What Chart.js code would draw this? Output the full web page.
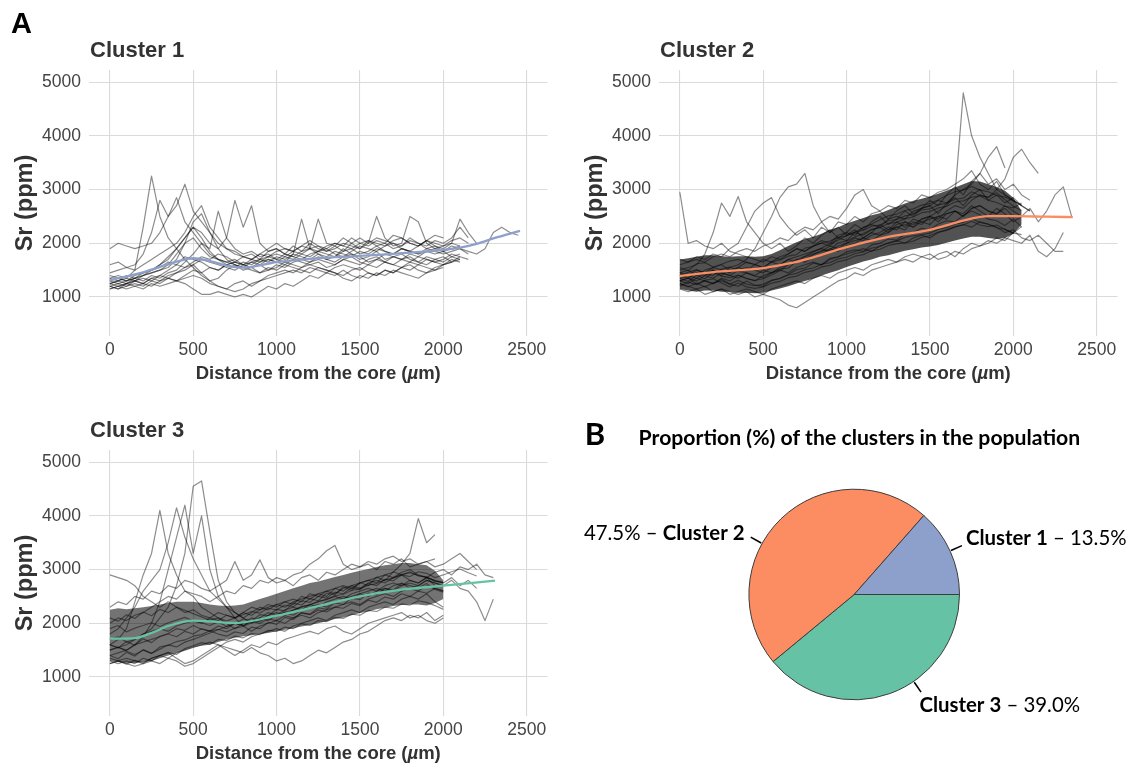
<!DOCTYPE html>
<html>
<head>
<meta charset="utf-8">
<script src="https://cdn.jsdelivr.net/npm/chart.js@4.4.1/dist/chart.umd.min.js"></script>
<style>
  html, body { margin: 0; padding: 0; background: #fff; }
  body { width: 1143px; height: 767px; position: relative; overflow: hidden; }
  canvas { position: absolute; }
</style>
</head>
<body>
<canvas id="cluster1" width="570" height="395" style="left:0px;top:0px"></canvas>
<canvas id="cluster2" width="573" height="395" style="left:570px;top:0px"></canvas>
<canvas id="cluster3" width="570" height="395" style="left:0px;top:380px"></canvas>
<canvas id="proportions" width="573" height="367" style="left:570px;top:400px"></canvas>
<script>
// distance from the core (um), one reading every 50 um
const distance = [0,50,100,150,200,250,300,350,400,450,500,550,600,650,700,750,800,850,900,950,
  1000,1050,1100,1150,1200,1250,1300,1350,1400,1450,1500,1550,1600,1650,1700,1750,1800,1850,1900,1950,
  2000,2050,2100,2150,2200,2250,2300,2350,2400,2450];

const xTicks = [0, 500, 1000, 1500, 2000, 2500];
const yTicks = [1000, 2000, 3000, 4000, 5000];

// ---- Cluster 1 : individual Sr profiles (ppm) ----
const c1Profiles = [
  [1250,1300,1350,1500,2300,3250,2500,2100,1900,1700,1550,1400,1300,1350,1500,1600,1550,1650,1600,1700,1650,1750,1700,1800,1750,1850,1800,1750,1850,1900,1800,1850,1950,1850,1800,1900,1850,1800,1900,1850,1800,1850,1900,1800],
  [1900,2000,1950,1900,1950,2000,2200,2500,2700,3100,2600,2400,2200,2000,1900,1850,1750,1800,1700,1850,1900,1800,1750,1850,2000,1900,1850,1950,2100,2000,1900,2000,2100,2050,2000,1950,2100,2000,1950,2050,2000,2100,2300,2100],
  [1450,1500,1550,1600,1800,2200,2800,2500,2850,2400,2200,2000,1900,2600,2100,1900,1800,1850,1750,1800,1700,1650,1800,2450,1900,1800,1700,1750,1900,1800,1700,1750,1850,1700,1750,1800,1700,1650,1750,1700,1650,1750,1700],
  [1300,1350,1300,1400,1450,1500,1600,1700,1900,2100,2300,2200,2000,1900,2100,2800,2300,2700,2000,1850,1900,1800,1950,1850,1900,2450,2000,1950,1850,2000,2100,2000,2500,2100,1950,2000,2500,2400,2000,1900,1950,2000,2450,2200,2000],
  [1200,1150,1200,1250,1200,1300,1250,1350,1300,1250,1150,1050,1050,1100,1050,1000,1050,1000,1100,1200,1150,1250,1200,1300,1400,1350,1450,1400,1500,1400,1350,1450,1400,1500,1450,1550,1500,1600,1550,1500,1600,1650,1700],
  [1350,1300,1400,1350,1450,1500,1550,1650,1600,1750,1700,1650,1550,1500,1600,1550,1650,1600,1700,1650,1750,1700,1800,1750,1700,1800,1750,1850,1800,1750,1850,1800,1900,1850,1800,1900,1850,1800,1850,1900,1850,1950,1900,1850,1800,1900,2200,2300,2200,2150],
  [1150,1200,1250,1300,1350,1300,1400,1500,1600,1550,1650,1750,1700,1800,1750,1650,1600,1550,1650,1700,1650,1600,1700,1650,1600,1550,1500,1450,1350,1300,1400,1350,1450,1400,1500,1450,1400,1350,1450,1500,1550],
  [1600,1650,1550,1500,1600,1700,1800,1900,2000,2200,2500,2700,2300,2100,1900,1800,1750,1700,1800,1900,2000,1900,1850,1950,2050,1950,1900,2000,1950,2100,2000,1950,2050,2000,2150,2100,2000,1950,2050,2150,2100],
  [1250,1200,1250,1300,1250,1350,1400,1350,1450,1550,1600,1450,1300,1200,1150,1250,1300,1200,1300,1400,1450,1500,1450,1550,1600,1650,1550,1600,1700,1650,1600,1700,1750,1650,1600,1700,1750,1650,1600,1700,1750,1650,1750,1700],
  [1400,1350,1300,1350,1400,1450,1500,1550,1700,2000,2400,2550,2200,1900,1700,1600,1500,1550,1450,1500,1600,1550,1650,1700,1650,1750,1700,1650,1750,1800,1750,1650,1700,1800,1750,1700,1800,1750,1850,1800,1850,1750,1800],
  [1200,1250,1200,1300,1250,1350,1300,1400,1450,1500,1600,1700,1650,1600,1550,1500,1600,1650,1700,1750,1700,1800,1750,1700,1800,1850,1900,1800,1750,1850,1950,1900,1850,1950,2000,1900,1850,1950,2050,1950,1900,2000,1950],
  [1300,1250,1300,1350,1300,1400,1350,1450,1500,1650,1800,2000,1800,1700,1650,1700,1600,1550,1600,1500,1550,1650,1600,1550,1650,1700,1650,1600,1700,1750,1650,1600,1700,1650,1750,1700,1650,1750,1700,1650,1700,1800,1750],
  [1150,1200,1150,1200,1250,1200,1300,1350,1300,1400,1500,1450,1550,1500,1600,1650,1600,1700,1650,1750,1800,1750,1850,1800,1900,1950,1850,1900,2000,1950,1900,2050,2000,1950,2050,2100,2000,1950,2050,2000,1950,2050,2100,2000],
  [1350,1400,1350,1300,1400,1450,1500,1600,1800,2000,2100,1900,1750,1700,1650,1600,1550,1500,1450,1550,1500,1600,1550,1500,1450,1550,1500,1450,1400,1500,1550,1450,1400,1500,1450,1550,1600,1500,1450,1550,1600,1650],
  [1250,1300,1250,1350,1400,1500,1600,1750,1900,2100,2300,2100,1850,1700,1600,1650,1750,1700,1800,1750,1850,1900,1850,1950,1900,1850,1950,2000,1950,1900,2000,2050,1950,2000,1900,1950,2050,2000,1900,1950,1850,1900,1950],
  [1200,1150,1250,1200,1150,1250,1200,1250,1300,1350,1400,1350,1250,1200,1150,1100,1150,1250,1300,1350,1400,1450,1500,1450,1550,1500,1450,1550,1600,1550,1500,1600,1550,1650,1600,1550,1650,1600,1700,1650,1600,1700,1650]
];
const c1FitDist = [0,200,400,500,600,700,800,1000,1200,1500,1800,2000,2100,2200,2300,2460];
const c1FitSr   = [1315,1460,1660,1722,1670,1585,1548,1652,1712,1765,1825,1880,1920,1990,2090,2230];

// ---- Cluster 2 ----
const c2Profiles = [
  [2950,2000,2050,1950,1900,2000,1850,1800,1750,1700,1650,1750,1700,1800,1900,1850,1950,2000,1950,2100,2050,2200,2150,2250,2300,2200,2350,2400,2300,2450,2500,2400,2550,2600,2500,2650,2700,2600,2550,2650,2500],
  [1500,1550,1600,1800,2200,2750,2500,2870,2400,2200,2000,1900,2000,1850,1950,2100,2000,2150,2250,2100,2200,2350,2250,2400,2500,2350,2450,2600,2500,2650,2700,2550,2750,2850,2700,2900,3000,2800,2900,2750,2850,2700],
  [1700,1650,1750,1700,1800,1750,1900,2000,2300,2600,2750,2850,2500,2300,2150,2250,2100,2300,2200,2400,2350,2500,2400,2550,2600,2450,2600,2700,2550,2650,2800,2700,2900,3050,2900,3150,3300,3100,3200,3000,3100,2900,2800],
  [1350,1400,1350,1450,1500,1400,1550,1600,1700,1900,2200,2500,2850,3050,3100,3300,2700,2400,2200,2300,2150,2250,2100,2200,2350,2250,2400,2300,2450,2400,2350,2500,2450,2600,2550,2700,2600,2500,2650,2550,2400,2500],
  [1250,1200,1150,1200,1100,1150,1100,1050,1100,1000,1050,1000,950,850,800,900,1000,1100,1200,1300,1350,1450,1400,1500,1550,1600,1650,1700,1650,1750,1800,1700,1750,1850,1800,1900,1950,2000,2100,2050,2200],
  [1600,1650,1700,1650,1750,1800,1750,1850,1900,1850,1950,2000,2100,2050,2200,2300,2250,2400,2500,2450,2650,2900,3000,2700,2600,2700,2650,2800,2750,2900,2850,2950,3000,3100,3200,3350,3100,3000,3150,2900,2800,2700,2600],
  [1400,1350,1450,1400,1500,1450,1400,1500,1550,1500,1450,1550,1600,1700,1650,1750,1800,1850,1950,1900,2000,2100,2050,2150,2200,2300,2250,2400,2350,2450,2500,2600,2700,2900,4800,4000,3600,3300,3000,2900,2800,2700,2600],
  [1450,1500,1400,1500,1550,1600,1500,1550,1650,1600,1700,1650,1750,1800,1900,1850,1950,2050,2000,2150,2200,2150,2300,2350,2300,2450,2500,2450,2600,2650,2700,2800,2750,2900,3000,3100,3300,3600,3800,3400],
  [1300,1350,1300,1400,1350,1450,1400,1350,1450,1400,1500,1450,1550,1600,1700,1650,1750,1800,1900,1850,1950,2000,2100,2050,2150,2200,2300,2250,2400,2350,2500,2450,2600,2700,2650,2800,2900,2850,3000,3200,3600,3750,3500,3300],
  [1300,1250,1350,1300,1250,1350,1300,1400,1350,1300,1400,1450,1500,1450,1550,1600,1650,1600,1700,1750,1800,1850,1900,1850,1950,2000,2050,2000,2100,2150,2100,2200,2250,2300,2350,2300,2400,2350,2300,2200,2250,2100,2050,2150,2000,1850,1850],
  [1450,1400,1500,1450,1550,1500,1450,1550,1500,1600,1550,1650,1600,1700,1750,1800,1850,1900,1850,1950,2000,2050,2100,2200,2150,2250,2300,2350,2300,2400,2450,2500,2550,2600,2500,2650,2700,2600,2550,2700,2600,2500,2650,2400,2600,2900,3050,2500],
  [1150,1100,1150,1050,1100,1150,1050,1100,1150,1100,1050,1150,1200,1250,1300,1250,1350,1400,1350,1450,1500,1550,1500,1600,1650,1700,1650,1750,1800,1750,1700,1800,1850,1750,1900,2000,1950,2050,2000,2100,2050,2000,2150,1850,1750,1900,2200],
  [1200,1280,1230,1300,1250,1330,1240,1200,1300,1220,1200,1310,1350,1420,1510,1540,1630,1600,1720,1750,1840,1880,1850,1970,2000,2080,2060,2170,2200,2280,2250,2360,2420,2400,2520,2600,2530,2450,2420,2330,2450,2300],
  [1400,1460,1510,1440,1400,1520,1560,1480,1450,1390,1360,1450,1520,1540,1660,1700,1790,1860,1880,2010,2040,2120,2180,2260,2290,2370,2390,2460,2490,2570,2590,2660,2690,2770,2790,2860,2880,2800,2760,2690,2660,2750],
  [1550,1490,1620,1640,1560,1610,1670,1700,1640,1610,1540,1660,1690,1760,1790,1910,1940,2010,2040,2110,2140,2210,2240,2320,2340,2420,2440,2510,2540,2620,2640,2720,2740,2820,2840,2960,2890,2860,2940,2810,2690,2610],
  [1250,1190,1260,1190,1260,1300,1240,1310,1240,1210,1240,1310,1340,1410,1440,1510,1540,1610,1640,1710,1740,1810,1840,1910,1940,2010,2040,2110,2140,2160,2190,2260,2290,2360,2390,2460,2390,2360,2290,2260,2190,2160],
  [1350,1290,1410,1340,1460,1390,1360,1410,1340,1310,1340,1410,1490,1610,1690,1760,1840,1910,1990,2060,2140,2210,2290,2360,2440,2510,2540,2610,2640,2710,2740,2810,2890,2960,2990,3060,2990,2960,2890,2860,2790,2710],
  [1300,1360,1240,1310,1340,1260,1190,1260,1190,1160,1190,1260,1290,1360,1390,1460,1490,1560,1590,1660,1690,1760,1790,1860,1890,1960,1990,2010,2040,2110,2140,2210,2240,2310,2340,2410,2340,2310,2340,2260,2190,2310]
];
const c2BandLow  = [1150,1120,1100,1120,1120,1100,1100,1080,1080,1070,1080,1120,1160,1200,1250,1300,1340,1400,1450,1500,1560,1610,1660,1700,1750,1780,1820,1860,1890,1920,1940,1970,2010,2050,2090,2120,2120,2100,2080,2100,2180,2350];
const c2BandHigh = [1700,1720,1750,1780,1780,1760,1750,1760,1760,1750,1760,1800,1870,1950,2020,2080,2120,2180,2250,2300,2370,2420,2470,2520,2560,2620,2680,2740,2790,2830,2870,2920,2980,3040,3100,3160,3150,3100,3050,2980,2850,2600];
const c2FitDist = [0,200,400,500,650,800,1000,1250,1500,1650,1750,1850,2000,2200,2357];
const c2FitSr   = [1390,1465,1510,1540,1620,1740,1930,2120,2250,2380,2460,2505,2505,2495,2488];

// ---- Cluster 3 ----
const c3Profiles = [
  [2900,2850,2800,2700,2500,2400,2300,2400,2300,2200,2250,2150,2100,2200,2150,2100,2200,2300,2250,2350,2300,2400,2450,2400,2550,2500,2600,2650,2600,2700,2750,2800,2750,2900,2850,2950,3000,2900,2850,2950,3000,2900,3050,3000,3100,2900,2850],
  [1600,1700,1900,2400,2900,3300,4100,3300,2900,2600,2500,2300,2200,2100,2000,1900,2000,2100,2050,2150,2200,2150,2250,2300,2350,2300,2400,2450,2500,2450,2550,2600,2650,2600,2700,2750,2650,2700,2800,2750,2700],
  [1800,1900,2100,2300,2600,2800,3000,3500,4150,3600,3200,2900,2600,2450,2300,2200,2100,2200,2300,2250,2350,2400,2350,2500,2450,2550,2600,2550,2650,2700,2650,2750,2800,2750,2850,2900,2800,2750,2850,2700],
  [1500,1550,1600,1700,1800,1900,2100,2300,2700,3300,4550,4650,3700,2800,2400,2200,2100,2000,2100,2200,2150,2250,2300,2250,2350,2400,2450,2500,2450,2550,2600,2650,2600,2700,2750,2700,2800,2750,2850,2800,2750,2850,2700,2800,2650],
  [1400,1450,1500,1600,1750,2000,2400,3000,3600,4200,3300,4000,3000,2500,2300,2100,1950,1850,1950,2000,2050,2000,2100,2150,2100,2200,2250,2300,2350,2400,2350,2450,2500,2550,2500,2600,2650,2600,2700,2650,2600],
  [1300,1250,1300,1250,1350,1300,1400,1450,1350,1250,1300,1400,1500,1600,1550,1500,1450,1550,1450,1400,1300,1350,1250,1300,1400,1500,1450,1550,1650,1700,1800,1850,1950,2050,2100,2050,2150,2100,2200,2050,2150],
  [1700,1750,1650,1700,1800,1850,1900,1850,1950,2000,2050,2000,2100,2050,2150,2100,2200,2150,2250,2300,2350,2300,2400,2450,2500,2550,2500,2650,2700,2650,2750,2800,2850,2900,2950,3100,3300,3950,3500,3650],
  [1600,1550,1500,1600,1650,1700,1750,1800,1750,1850,1800,1900,1850,1950,1900,2000,1950,2050,2100,2050,2150,2200,2150,2250,2300,2350,2300,2400,2450,2500,2550,2500,2600,2650,2600,2700,2750,2700,2800,2750,2700,2800,2650,2600,2400,2050,2450],
  [2000,2100,2050,2150,2200,2300,2400,2500,2450,2600,2550,2500,2400,2500,2600,2550,2700,2650,2800,2750,2850,2800,2900,2950,3100,3200,3350,3450,3100,3000,3050,3100,3000,3150,3100,3200,3050,3100,3150,3050,3100,3200,3300,3150,3000],
  [1250,1300,1350,1300,1250,1350,1400,1350,1450,1500,1550,1600,1650,1600,1500,1400,1500,1600,1550,1650,1600,1700,1750,1800,1850,1800,1900,1950,1850,1800,1900,2000,2050,2100,2150,2200,2100,2150,2050,2000,2100],
  [2300,2400,2350,2500,2450,2600,2550,2700,2650,2800,2750,2650,2600,2700,2800,3150,2800,2900,3180,2850,2750,2800,2700,2850,2900,2800,2950,2900,3000,3100,3050,3150,3100,3200,3250,3150,3200,3100,3150,3200],
  [1350,1300,1250,1200,1250,1300,1250,1350,1300,1200,1250,1350,1450,1550,1650,1700,1650,1750,1800,1850,1900,1850,1950,2000,2050,2100,2050,2150,2200,2250,2200,2300,2350,2400,2350,2450,2500,2450,2550,2400,2300],
  [1400,1340,1460,1390,1510,1440,1560,1590,1660,1690,1760,1790,1860,1890,1840,1910,1940,2010,2040,2110,2140,2210,2240,2310,2340,2410,2440,2510,2540,2610,2640,2710,2740,2810,2840,2910,2940,2890,2860,2790,2760],
  [1900,1960,1840,1910,1960,2010,1940,2010,2060,2110,2040,2010,1960,2030,1940,1990,2080,2050,2160,2140,2260,2230,2380,2340,2460,2420,2560,2530,2680,2610,2760,2700,2860,2790,2960,2900,2960,2880,2860,2780,2760],
  [1600,1540,1660,1590,1710,1640,1760,1810,1900,1870,1960,1890,1860,1800,1760,1840,1810,1930,1900,2020,1980,2110,2070,2200,2170,2290,2260,2380,2350,2470,2440,2560,2530,2650,2620,2740,2700,2660,2740,2630,2580],
  [1250,1300,1240,1310,1270,1350,1400,1460,1420,1530,1580,1640,1610,1700,1680,1760,1730,1810,1790,1870,1850,1930,1900,1990,1960,2050,2030,2110,2090,2170,2150,2240,2220,2300,2280,2360,2340,2420,2390,2330,2260],
  [2100,2040,2160,2090,2210,2140,2260,2200,2300,2240,2180,2120,2060,2100,2040,2100,2160,2220,2190,2280,2250,2340,2310,2420,2390,2500,2470,2580,2550,2660,2630,2740,2700,2820,2790,2900,2870,2960,2930,2850,2900,2960,3010,2940,2880],
  [1500,1560,1480,1420,1500,1440,1520,1600,1560,1650,1700,1760,1820,1880,1940,2000,1960,2040,2000,2080,2050,2140,2100,2190,2160,2250,2210,2300,2280,2370,2330,2430,2390,2490,2450,2550,2500,2600,2560,2650,2610]
];
const c3BandLow  = [1300,1280,1260,1260,1280,1300,1350,1400,1450,1500,1550,1580,1600,1650,1700,1730,1760,1780,1800,1820,1850,1880,1910,1940,1970,2000,2040,2080,2110,2150,2190,2220,2260,2290,2320,2340,2350,2350,2330,2380,2450];
const c3BandHigh = [2250,2280,2260,2280,2300,2320,2350,2380,2400,2400,2400,2380,2350,2330,2320,2330,2350,2400,2450,2500,2550,2600,2650,2700,2750,2780,2820,2860,2900,2940,2980,3010,3050,3080,3100,3120,3120,3100,3080,2980,2800];
const c3FitDist = [0,150,250,350,500,600,750,1000,1250,1500,1750,2000,2310];
const c3FitSr   = [1714,1725,1820,1950,2050,2035,2005,2143,2320,2503,2627,2700,2795];

// ---- Panel B : proportion of clusters ----
const pieLabels = ['Cluster 1', 'Cluster 2', 'Cluster 3'];
const pieShares = [13.5, 47.5, 39.0];
const pieColors = ['#8DA0CB', '#FC8D62', '#66C2A5'];

const SANS = '"Liberation Sans", Arial, Helvetica, sans-serif';
const CALI = 'Lato, "Open Sans", sans-serif';

function toPoints(xs, ys) {
  return ys.map((v, i) => ({ x: xs[i], y: v }));
}

// titles, panel letter and the x axis title (with italic mu)
const panelText = {
  id: 'panelText',
  afterDraw(chart, args, opts) {
    const { ctx, chartArea } = chart;
    ctx.save();
    ctx.textBaseline = 'alphabetic';
    ctx.fillStyle = '#333';
    ctx.font = 'bold 22px ' + SANS;
    ctx.textAlign = 'left';
    ctx.fillText(opts.title, chartArea.left + 1, chartArea.top - 13);

    if (opts.letter) {
      ctx.fillStyle = '#000';
      ctx.font = 'bold 29px ' + SANS;
      ctx.fillText(opts.letter, 11, 33);
    }

    const parts = [
      ['Distance from the core (', 'bold 18.5px ' + SANS],
      ['\u00B5', 'italic bold 18.5px ' + SANS],
      ['m)', 'bold 18.5px ' + SANS]
    ];
    let total = 0;
    parts.forEach(p => { ctx.font = p[1]; total += ctx.measureText(p[0]).width; });
    let x = (chartArea.left + chartArea.right) / 2 - total / 2;
    const y = chartArea.bottom + 43;
    ctx.fillStyle = '#333';
    parts.forEach(p => {
      ctx.font = p[1];
      ctx.fillText(p[0], x, y);
      x += ctx.measureText(p[0]).width;
    });
    ctx.restore();
  }
};

function buildPanel(id, title, letter, profiles, bandLow, bandHigh, bandColor, fitDist, fitSr, fitColor, rightPad) {
  const datasets = [];
  datasets.push({
    data: toPoints(fitDist, fitSr),
    borderColor: fitColor,
    borderWidth: 2.3,
    cubicInterpolationMode: 'monotone',
    order: 0
  });
  profiles.forEach(p => {
    datasets.push({
      data: toPoints(distance, p),
      borderColor: 'rgba(0,0,0,0.45)',
      borderWidth: 1.2,
      order: 1
    });
  });
  // dense core of the profiles, where single lines can no longer be told apart
  if (bandLow) {
    datasets.push({
      data: toPoints(distance, bandLow),
      borderWidth: 0,
      fill: false,
      order: 2
    });
    datasets.push({
      data: toPoints(distance, bandHigh),
      borderWidth: 0,
      backgroundColor: bandColor,
      fill: '-1',
      order: 2
    });
  }

  return new Chart(document.getElementById(id), {
    type: 'line',
    data: { datasets: datasets },
    options: {
      responsive: false,
      animation: false,
      events: [],
      layout: { padding: { top: 70, right: rightPad, bottom: 0, left: 0 } },
      elements: {
        point: { radius: 0 },
        line: { tension: 0, borderJoinStyle: 'round' }
      },
      plugins: {
        legend: { display: false },
        tooltip: { enabled: false },
        panelText: { title: title, letter: letter }
      },
      scales: {
        x: {
          type: 'linear',
          min: -125,
          max: 2625,
          border: { display: false },
          grid: { color: '#dadada', lineWidth: 1.1, drawTicks: false },
          afterBuildTicks: s => { s.ticks = xTicks.map(v => ({ value: v })); },
          afterFit: s => { s.height = 59; },
          ticks: {
            padding: 4,
            color: '#444',
            font: { family: SANS, size: 17.5 },
            maxRotation: 0,
            callback: v => String(v)
          }
        },
        y: {
          type: 'linear',
          min: 275,
          max: 5225,
          border: { display: false },
          grid: { color: '#dadada', lineWidth: 1.1, drawTicks: false },
          afterBuildTicks: s => { s.ticks = yTicks.map(v => ({ value: v })); },
          afterFit: s => { s.width = 89; },
          ticks: {
            padding: 8,
            color: '#444',
            font: { family: SANS, size: 17.5 },
            callback: v => String(v)
          },
          title: {
            display: true,
            text: 'Sr (ppm)',
            color: '#333',
            font: { family: SANS, size: 23.5, weight: 'bold' },
            padding: { top: 11, bottom: 0 }
          }
        }
      }
    },
    plugins: [panelText]
  });
}

buildPanel('cluster1', 'Cluster 1', 'A', c1Profiles, null, null, null,
  c1FitDist, c1FitSr, pieColors[0], 22.5);
buildPanel('cluster2', 'Cluster 2', null, c2Profiles, c2BandLow, c2BandHigh, 'rgba(0,0,0,0.68)',
  c2FitDist, c2FitSr, pieColors[1], 25.5);
buildPanel('cluster3', 'Cluster 3', null, c3Profiles, c3BandLow, c3BandHigh, 'rgba(0,0,0,0.55)',
  c3FitDist, c3FitSr, pieColors[2], 22.5);

// ---- pie with hand-placed labels ----
const leaderAngles = [24.4, 151, -55.6];   // degrees, counter-clockwise from 3 o'clock
const labelSpots = [
  { x: 396, y: 145, align: 'left' },
  { x: 174.5, y: 140, align: 'right' },
  { x: 349.5, y: 312, align: 'left' }
];

function fitSize(ctx, weight, text, target) {
  ctx.font = weight + ' 20px ' + CALI;
  return 20 * target / ctx.measureText(text).width;
}

const pieText = {
  id: 'pieText',
  afterDraw(chart) {
    const { ctx } = chart;
    const arc = chart.getDatasetMeta(0).data[0];
    const cx = arc.x, cy = arc.y, r = arc.outerRadius;
    ctx.save();
    ctx.textBaseline = 'alphabetic';
    ctx.fillStyle = '#000';

    ctx.font = 'bold 31px ' + CALI;
    ctx.textAlign = 'left';
    ctx.fillText('B', 14.7, 45);

    const heading = 'Proportion (%) of the clusters in the population';
    const hs = fitSize(ctx, 'bold', heading, 442);
    ctx.font = 'bold ' + hs + 'px ' + CALI;
    ctx.fillText(heading, 68.6, 45);

    ctx.strokeStyle = '#000';
    ctx.lineWidth = 1.6;
    leaderAngles.forEach(deg => {
      const a = deg * Math.PI / 180;
      ctx.beginPath();
      ctx.moveTo(cx + (r + 1) * Math.cos(a), cy - (r + 1) * Math.sin(a));
      ctx.lineTo(cx + (r + 13) * Math.cos(a), cy - (r + 13) * Math.sin(a));
      ctx.stroke();
    });

    const size = fitSize(ctx, 'normal', 'Cluster 1 \u2013 13.5%', 160);
    pieLabels.forEach((name, i) => {
      const pct = pieShares[i].toFixed(1) + '%';
      const spot = labelSpots[i];
      const pieces = spot.align === 'right'
        ? [[pct + ' \u2013 ', 'normal'], [name, 'bold']]
        : [[name, 'bold'], [' \u2013 ' + pct, 'normal']];
      let w = 0;
      pieces.forEach(p => { ctx.font = p[1] + ' ' + size + 'px ' + CALI; w += ctx.measureText(p[0]).width; });
      let x = spot.align === 'right' ? spot.x - w : spot.x;
      pieces.forEach(p => {
        ctx.font = p[1] + ' ' + size + 'px ' + CALI;
        ctx.fillText(p[0], x, spot.y);
        x += ctx.measureText(p[0]).width;
      });
    });
    ctx.restore();
  }
};

// drawn clockwise from 3 o'clock, so the order is reversed to match the figure
new Chart(document.getElementById('proportions'), {
  type: 'pie',
  data: {
    labels: pieLabels.slice().reverse(),
    datasets: [{
      data: pieShares.slice().reverse(),
      backgroundColor: pieColors.slice().reverse(),
      borderColor: '#3c3c3c',
      borderWidth: 1,
      hoverOffset: 0
    }]
  },
  options: {
    responsive: false,
    animation: false,
    events: [],
    rotation: 90,
    layout: { padding: { left: 178.4, right: 183, top: 88.7, bottom: 66.7 } },
    plugins: {
      legend: { display: false },
      tooltip: { enabled: false }
    }
  },
  plugins: [pieText]
});
</script>
</body>
</html>
